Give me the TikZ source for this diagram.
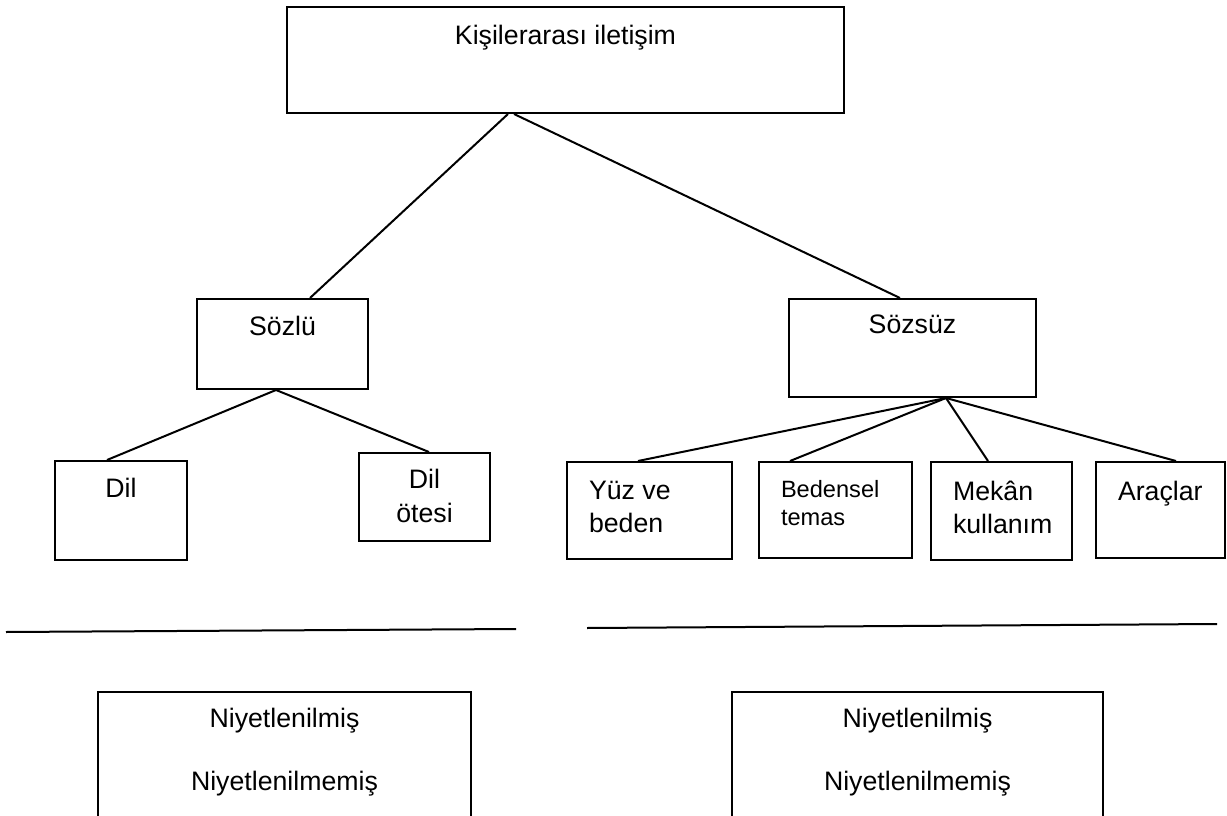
\documentclass[tikz,border=0pt]{standalone}
\usepackage{fontspec}
\setmainfont{Liberation Sans}
\begin{document}
\begin{tikzpicture}[x=1pt,y=-1pt,line width=2pt,
    box/.style={draw,rectangle,inner sep=0pt},
    txt/.style={inner sep=0pt,font=\fontsize{26.7pt}{33pt}\selectfont},
    small/.style={inner sep=0pt,font=\fontsize{23.6pt}{28pt}\selectfont}]
  \useasboundingbox (0,0) rectangle (1227,816);
  \clip (0,0) rectangle (1227,816);
  % boxes
  \draw
    (565.5,60) node[box,minimum width=557pt,minimum height=106pt] (kisi){}
    (282.5,344) node[box,minimum width=171pt,minimum height=90pt] (sozlu){}
    (912.5,348) node[box,minimum width=247pt,minimum height=98pt] (sozsuz){}
    (121,510.5) node[box,minimum width=132pt,minimum height=99pt] (dil){}
    (424.5,497) node[box,minimum width=131pt,minimum height=88pt] (otesi){}
    (649.5,510.5) node[box,minimum width=165pt,minimum height=97pt] (yuz){}
    (835.5,510) node[box,minimum width=153pt,minimum height=96pt] (temas){}
    (1001.5,511) node[box,minimum width=141pt,minimum height=98pt] (mekan){}
    (1160.5,510) node[box,minimum width=129pt,minimum height=96pt] (arac){}
    (284.5,761) node[box,minimum width=373pt,minimum height=138pt] (niyet1){}
    (917.5,761) node[box,minimum width=371pt,minimum height=138pt] (niyet2){};
  % texts
  \draw
    (565.5,45) node[txt,anchor=base] (kisit){Kişilerarası iletişim}
    (282.5,335) node[txt,anchor=base] (sozlut){Sözlü}
    (912.5,333) node[txt,anchor=base] (sozsuzt){Sözsüz}
    (121,497) node[txt,anchor=base] (dilt){Dil}
    (424.5,488) node[txt,anchor=base] (otesit1){Dil}
    (424.5,522) node[txt,anchor=base] (otesit2){ötesi}
    (588,499) node[txt,anchor=base west] (yuzt1){Yüz ve}
    (588,532) node[txt,anchor=base west] (yuzt2){beden}
    (780,497) node[small,anchor=base west] (temast1){Bedensel}
    (780,525) node[small,anchor=base west] (temast2){temas}
    (952,500) node[txt,anchor=base west] (mekant1){Mekân}
    (952,533) node[txt,anchor=base west] (mekant2){kullanım}
    (1117,500) node[txt,anchor=base west] (aract){Araçlar}
    (284.5,727) node[txt,anchor=base] (niyet1a){Niyetlenilmiş}
    (284.5,790) node[txt,anchor=base] (niyet1b){Niyetlenilmemiş}
    (917.5,727) node[txt,anchor=base] (niyet2a){Niyetlenilmiş}
    (917.5,790) node[txt,anchor=base] (niyet2b){Niyetlenilmemiş};
  % separator lines
  \coordinate (solA) at (6,632);
  \coordinate (solB) at (516,629);
  \coordinate (sagA) at (587,628);
  \coordinate (sagB) at (1217,624);
  \draw (solA) -- (solB);
  \draw (sagA) -- (sagB);
  \begin{scope}[-]
    \draw ([xshift=-57.5pt]kisi.south) to ([xshift=27.5pt]sozlu.north);
    \draw ([xshift=-51.5pt]kisi.south) to ([xshift=-12.5pt]sozsuz.north);
    \draw ([xshift=-6.5pt]sozlu.south) to ([xshift=-14pt]dil.north);
    \draw ([xshift=-6.5pt]sozlu.south) to ([xshift=4.5pt]otesi.north);
    \draw ([xshift=33.5pt]sozsuz.south) to ([xshift=-11.5pt]yuz.north);
    \draw ([xshift=33.5pt]sozsuz.south) to ([xshift=-45.5pt]temas.north);
    \draw ([xshift=33.5pt]sozsuz.south) to ([xshift=-13.5pt]mekan.north);
    \draw ([xshift=33.5pt]sozsuz.south) to ([xshift=15.5pt]arac.north);
  \end{scope}
\end{tikzpicture}
\end{document}
